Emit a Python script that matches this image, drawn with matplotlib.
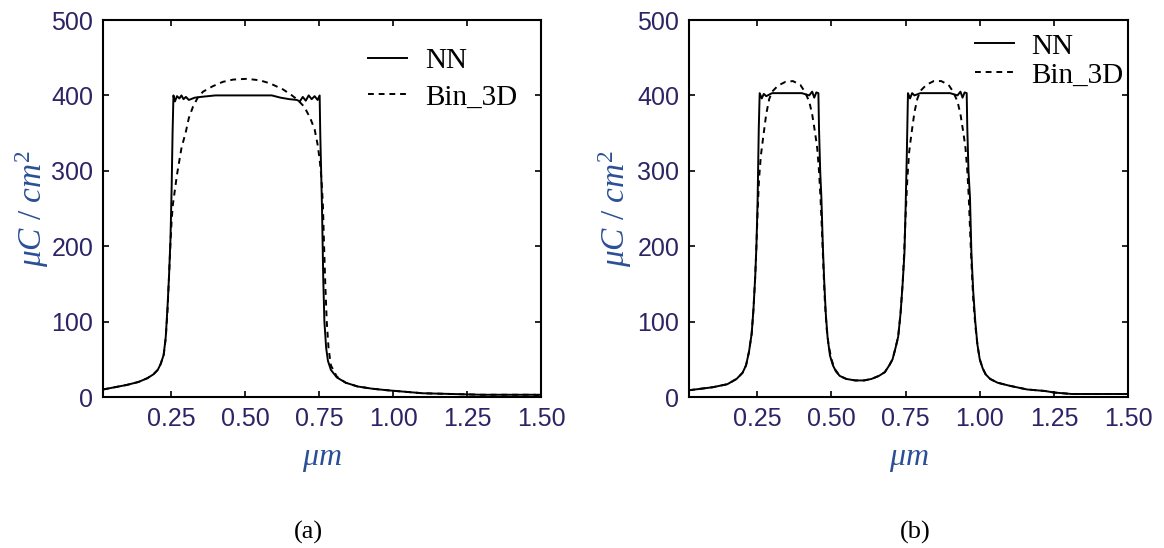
import matplotlib.pyplot as plt

plt.rcParams['mathtext.fontset'] = 'custom'
plt.rcParams['mathtext.it'] = 'Liberation Serif:italic'
plt.rcParams['mathtext.rm'] = 'Liberation Serif'

# Panel (a): single line, 0.25 - 0.75 um
xa_nn = [0.02, 0.06, 0.10, 0.14, 0.17, 0.19, 0.205, 0.215, 0.225, 0.232, 0.238, 0.243,
         0.248, 0.252, 0.255, 0.258, 0.263, 0.27, 0.278, 0.285, 0.292, 0.30, 0.31, 0.33,
         0.35, 0.40, 0.50, 0.59, 0.62, 0.65, 0.675, 0.685, 0.695, 0.705, 0.715, 0.725,
         0.735, 0.745, 0.752, 0.754, 0.757, 0.760, 0.764, 0.768, 0.774, 0.78, 0.79, 0.81,
         0.84, 0.88, 0.93, 0.98, 1.04, 1.10, 1.20, 1.30, 1.40, 1.50]
ya_nn = [10, 13, 16, 20, 25, 30, 36, 44, 56, 80, 120, 160,
         210, 280, 350, 400, 392, 399, 396, 400, 395, 398, 394, 397,
         398, 400, 400, 400, 397, 395, 394, 392, 398, 393, 400, 395,
         399, 394, 400, 350, 300, 250, 160, 100, 65, 48, 36, 26,
         19, 14, 11, 9, 7, 5, 4, 3, 3, 3]
xa_bin = [0.02, 0.06, 0.10, 0.14, 0.17, 0.19, 0.205, 0.215, 0.225, 0.232, 0.238, 0.243,
          0.248, 0.252, 0.256, 0.27, 0.285, 0.30, 0.31, 0.324, 0.34, 0.358, 0.39, 0.425,
          0.46, 0.506, 0.55, 0.584, 0.628, 0.655, 0.675, 0.70, 0.72, 0.735, 0.745, 0.752,
          0.758, 0.763, 0.767, 0.771, 0.776, 0.782, 0.79, 0.81, 0.84, 0.88, 0.93, 0.98,
          1.04, 1.10, 1.20, 1.30, 1.40, 1.48, 1.50]
ya_bin = [10, 13, 16, 20, 25, 30, 36, 44, 56, 78, 115, 160,
          205, 235, 255, 295, 330, 352, 370, 385, 397, 405, 412, 418,
          421, 422, 420, 416, 408, 401, 395, 385, 370, 355, 335, 315,
          290, 255, 200, 150, 100, 65, 42, 27, 19, 14, 11, 9,
          7, 5, 4, 3, 3, 3, 0]

# Panel (b): two lines
xb_nn = [0.02, 0.06, 0.10, 0.149, 0.18, 0.20, 0.212, 0.222, 0.231, 0.237, 0.243, 0.247,
         0.251, 0.255, 0.258, 0.265, 0.272, 0.28, 0.30, 0.35, 0.40, 0.425, 0.435, 0.442,
         0.449, 0.456, 0.458, 0.462, 0.466, 0.471, 0.476, 0.481, 0.487, 0.495, 0.505,
         0.515, 0.528, 0.55, 0.58, 0.61, 0.635, 0.66, 0.68, 0.695, 0.706, 0.716, 0.725,
         0.733, 0.74, 0.746, 0.75, 0.754, 0.758, 0.765, 0.772, 0.78, 0.80, 0.85, 0.90,
         0.925, 0.935, 0.942, 0.949, 0.956, 0.958, 0.962, 0.967, 0.972, 0.978, 0.985,
         0.992, 1.00, 1.01, 1.02, 1.035, 1.06, 1.10, 1.16, 1.22, 1.25, 1.31, 1.40, 1.50]
yb_nn = [9, 11, 13, 17, 24, 32, 42, 60, 84, 116, 160, 200,
         260, 357, 403, 396, 402, 399, 403, 403, 403, 400, 405, 397,
         404, 403, 357, 300, 265, 200, 150, 110, 79, 55, 42,
         34, 28, 24, 22, 22, 24, 28, 33, 42, 50, 65, 80,
         111, 150, 190, 250, 320, 403, 396, 403, 400, 403, 403, 403,
         400, 405, 397, 404, 403, 357, 300, 265, 190, 140, 100,
         70, 50, 38, 30, 24, 19, 15, 10, 8, 6, 4, 4, 4]
xb_bin = [0.02, 0.06, 0.10, 0.149, 0.18, 0.20, 0.212, 0.222, 0.231, 0.237, 0.243, 0.247,
          0.251, 0.256, 0.262, 0.27, 0.28, 0.29, 0.30, 0.32, 0.345, 0.37, 0.395, 0.41,
          0.425, 0.435, 0.445, 0.452, 0.458, 0.463, 0.468, 0.473, 0.478, 0.484, 0.49,
          0.50, 0.51, 0.528, 0.55, 0.58, 0.61, 0.635, 0.66, 0.68, 0.695, 0.706, 0.716,
          0.725, 0.733, 0.74, 0.745, 0.75, 0.756, 0.762, 0.77, 0.78, 0.79, 0.80, 0.82,
          0.845, 0.87, 0.895, 0.91, 0.925, 0.935, 0.945, 0.952, 0.958, 0.963, 0.968,
          0.973, 0.978, 0.985, 0.992, 1.00, 1.01, 1.02, 1.035, 1.06, 1.10, 1.16, 1.22,
          1.25, 1.31, 1.40, 1.50]
yb_bin = [9, 11, 13, 17, 24, 32, 42, 60, 84, 116, 160, 200,
          245, 290, 320, 345, 375, 395, 405, 413, 418, 419, 414, 405,
          392, 375, 350, 330, 300, 265, 220, 170, 125, 90, 70,
          50, 38, 28, 24, 22, 22, 24, 28, 33, 42, 50, 65,
          80, 111, 150, 190, 240, 290, 325, 350, 378, 396, 406, 414,
          419, 419, 414, 405, 392, 375, 350, 330, 300, 265, 215,
          170, 130, 95, 70, 50, 38, 30, 24, 19, 15, 10, 8,
          6, 4, 4, 4]

xticks = [0.25, 0.50, 0.75, 1.00, 1.25, 1.50]
xtick_labels = ['0.25', '0.50', '0.75', '1.00', '1.25', '1.50']
yticks = [0, 100, 200, 300, 400, 500]

tick_color = '#2c2464'
label_color = '#2a4f96'

fig = plt.figure(figsize=(11.64, 5.48), dpi=100)
ax_a = fig.add_axes([0.0885, 0.2755, 0.3763, 0.688])
ax_b = fig.add_axes([0.592, 0.2755, 0.3771, 0.688])

panels = [
    (ax_a, xa_nn, ya_nn, xa_bin, ya_bin, (0.945, 0.927), 0.35, -0.162),
    (ax_b, xb_nn, yb_nn, xb_bin, yb_bin, (0.99, 0.965), 0.08, -0.169),
]

for ax, xn, yn, xb, yb, leg_pos, spacing, ylab_x in panels:
    ax.plot(xn, yn, color='black', lw=1.4, label='NN')
    ax.plot(xb, yb, color='black', lw=1.4, linestyle=(0, (3, 2.5)), label='Bin_3D')
    ax.set_xlim(0.02, 1.5)
    ax.set_ylim(0, 500)
    ax.set_xticks(xticks)
    ax.set_xticklabels(xtick_labels)
    ax.set_yticks(yticks)
    ax.tick_params(direction='in', length=4, width=1.2, top=True, right=True,
                   labelsize=18, labelcolor=tick_color, pad=7)
    for lab in ax.get_xticklabels() + ax.get_yticklabels():
        lab.set_family('Liberation Sans')
    for sp in ax.spines.values():
        sp.set_linewidth(1.5)
    ax.set_xlabel(r'$\mu m$', fontsize=23, color=label_color, va='center')
    ax.xaxis.set_label_coords(0.5, -0.162)
    ax.set_ylabel(r'$\mu C\ /\ cm^2$', fontsize=24, color=label_color, va='center')
    ax.yaxis.set_label_coords(ylab_x, 0.5)
    leg = ax.legend(loc='upper right', bbox_to_anchor=leg_pos, frameon=False,
                    prop={'family': 'Liberation Serif', 'size': 21},
                    handlelength=1.35, handletextpad=0.6, labelspacing=spacing,
                    borderaxespad=0, borderpad=0)

fig.text(0.2646, 0.029, '(a)', family='Liberation Serif', fontsize=19,
         ha='center', va='center')
fig.text(0.786, 0.029, '(b)', family='Liberation Serif', fontsize=19,
         ha='center', va='center')

plt.savefig('out.png', dpi=100)
